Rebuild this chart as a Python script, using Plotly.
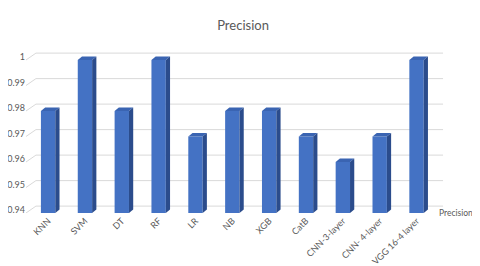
import plotly.graph_objects as go

categories = ["KNN", "SVM", "DT", "RF", "LR", "NB", "XGB", "CatB",
              "CNN-3-layer", "CNN- 4-layer", "VGG 16-4 layer"]
precision = [0.98, 1.0, 0.98, 1.0, 0.97, 0.98, 0.98, 0.97, 0.96, 0.97, 1.0]
y_ticks = [0.94, 0.95, 0.96, 0.97, 0.98, 0.99, 1.0]
y_tick_text = ["0.94", "0.95", "0.96", "0.97", "0.98", "0.99", "1"]
series_name = "Precision"
title_text = "Precision"

FRONT = "#4472C4"
SIDE = "#2B4C8C"
TOP = "#3A64B2"
GRID = "#D9D9D9"
TXT = "#595959"
FONT = "Lato"

BW = 0.39      # bar width (category units)
DX = 0.115     # depth offset x (category units)
DY = 0.0014    # depth offset y (value units)
GDX = 0.27     # wall depth x
GDY = 0.0027   # wall depth y
BASE = y_ticks[0]

x_idx = list(range(len(categories)))

fig = go.Figure()
fig.add_trace(go.Bar(x=x_idx, y=precision, width=BW, marker=dict(color=FRONT, line=dict(width=0)),
                     name=series_name, showlegend=False))

shapes = []
# back-wall gridlines with perspective stub on the left
for g in y_ticks:
    shapes.append(dict(type="line", xref="x", yref="y", x0=-0.6, y0=g, x1=-0.6 + GDX, y1=g + GDY,
                       line=dict(color=GRID, width=1), layer="below"))
    shapes.append(dict(type="line", xref="x", yref="y", x0=-0.6 + GDX, y0=g + GDY, x1=10.72, y1=g + GDY,
                       line=dict(color=GRID, width=1), layer="below"))

for i, v in zip(x_idx, precision):
    x0 = i - BW / 2
    x1 = i + BW / 2
    top = f"M {x0},{v} L {x1},{v} L {x1 + DX},{v + DY} L {x0 + DX},{v + DY} Z"
    side = f"M {x1},{BASE} L {x1},{v} L {x1 + DX},{v + DY} L {x1 + DX},{BASE + DY} Z"
    shapes.append(dict(type="path", xref="x", yref="y", path=top, fillcolor=TOP,
                       line=dict(width=0), layer="above"))
    shapes.append(dict(type="path", xref="x", yref="y", path=side, fillcolor=SIDE,
                       line=dict(width=0), layer="above"))

fig.update_layout(
    width=472, height=258,
    margin=dict(l=18, r=34, t=39, b=53, autoexpand=False),
    paper_bgcolor="white", plot_bgcolor="white",
    font=dict(family=FONT, color=TXT, size=9),
    title=dict(text=title_text, x=0.498, xanchor="center", y=1 - 17 / 258, yanchor="middle",
               yref="container", font=dict(size=13, color=TXT, family=FONT)),
    shapes=shapes,
    xaxis=dict(range=[-0.6, 10.8], tickmode="array", tickvals=x_idx, ticktext=categories,
               tickangle=-45, showgrid=False, zeroline=False, showline=False, ticks="",
               automargin=False, tickfont=dict(size=9, color=TXT, family=FONT)),
    yaxis=dict(range=[0.94, 0.94 + 166 / 2550], tickmode="array", tickvals=y_ticks,
               ticktext=y_tick_text, showgrid=False, zeroline=False, showline=False, ticks="",
               automargin=False, ticklabelshift=-3, tickfont=dict(size=9, color=TXT, family=FONT)),
    annotations=[dict(text=series_name, xref="paper", yref="y", x=1.07, y=BASE, xanchor="right",
                      yanchor="middle", showarrow=False,
                      font=dict(size=8.5, color=TXT, family=FONT))],
)

fig.write_html("out.html")
